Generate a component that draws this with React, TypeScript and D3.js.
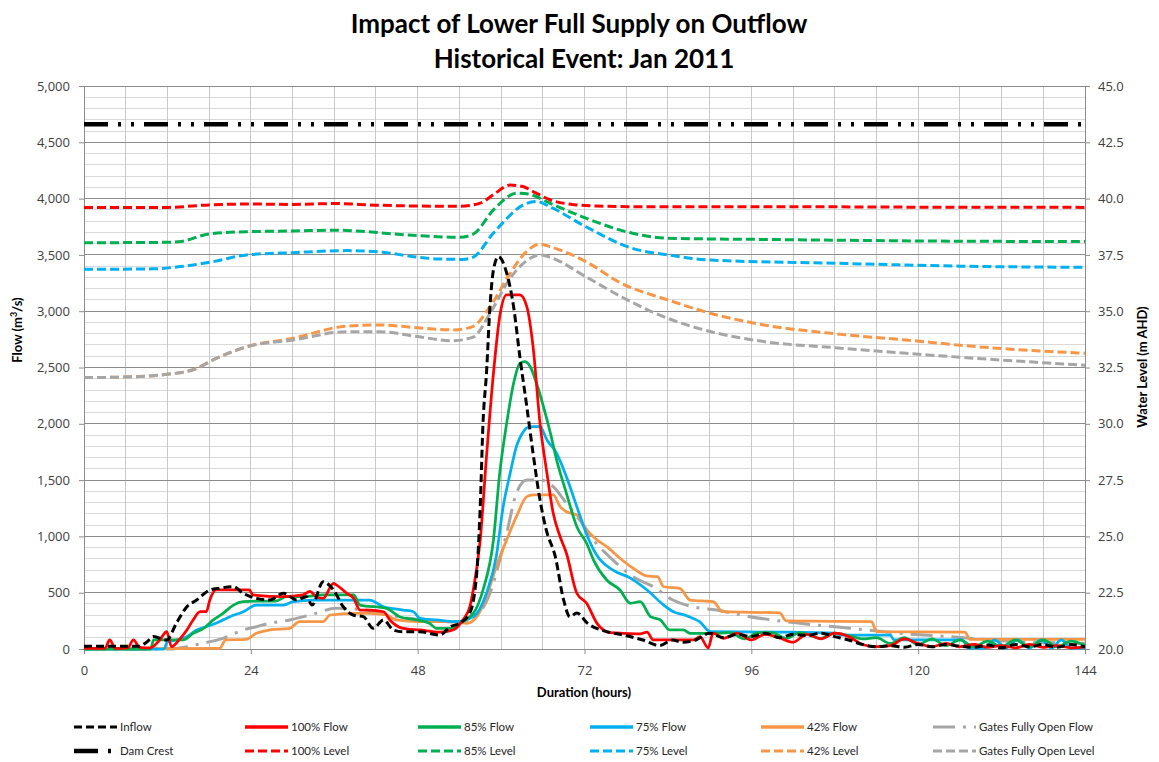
import React, { useEffect, useRef } from 'react';
import * as d3 from 'd3';

type Pt = [number, number];

// ---- data (hours, m3/s) ----
const inflow: Pt[] = [
  [0, 25], [4, 25], [8, 25], [9, 60], [10, 110], [11.9, 80], [13.3, 230], [14.8, 375], [16.2, 435],
  [18.1, 524], [19.5, 540], [21.5, 553], [22.9, 495], [24.8, 450], [26.7, 435], [28.7, 495], [30.6, 435],
  [32, 465], [32.8, 390], [34.4, 598], [35.9, 524], [37.3, 375], [38.8, 300], [40.2, 287], [41.6, 184],
  [43.1, 258], [44.5, 169], [45.9, 154], [48.3, 154], [51.2, 124], [52.7, 198], [54.1, 230], [55.5, 320],
  [56.5, 675], [57, 1264], [57.4, 2007], [57.9, 2450], [58.4, 3040], [58.9, 3366], [59.6, 3484],
  [60.8, 3340], [61.8, 3040], [62.7, 2596], [63.7, 2152], [64.6, 1738], [65.6, 1323], [66.5, 1057],
  [67.8, 820], [69, 435], [69.9, 287], [70.9, 320], [72.4, 230], [75.2, 154], [77.6, 124], [80.4, 80],
  [82.8, 30], [84.7, 80], [86, 60], [88, 80], [90, 140], [92, 100], [94, 130], [96, 110], [98, 140],
  [100, 100], [102, 130], [104, 120], [106, 140], [108, 110], [110, 80], [112, 40], [114, 20], [116, 30],
  [118, 15], [120, 40], [122, 20], [124, 40], [126, 25], [128, 15], [130, 35], [132, 10], [134, 40],
  [136, 20], [138, 40], [140, 15], [142, 40], [144, 20]
];

const flow100: Pt[] = [
  [0, 5], [3, 5], [3.7, 80], [4.5, 5], [6.3, 10], [7.1, 80], [8, 15], [9.5, 10], [10.9, 80], [11.9, 154],
  [12.6, 20], [13.8, 90], [14.8, 169], [15.7, 258], [16.7, 331], [17.6, 331], [18.1, 435], [19, 524],
  [20, 524], [23.8, 524], [24.3, 480], [28.7, 465], [31.5, 480], [32.5, 511], [33.4, 465], [34.4, 450],
  [35.9, 583], [36.3, 570], [37.8, 495], [38.8, 450], [39.7, 346], [41.1, 346], [43.1, 331], [44, 258],
  [45.9, 184], [48.3, 169], [51.2, 150], [53.1, 169], [54.5, 258], [55.5, 375], [56, 524], [57, 968],
  [57.9, 1708], [58.9, 2448], [59.8, 2951], [60.8, 3144], [62.7, 3144], [63.7, 3040], [64.6, 2685],
  [65.6, 2004], [66.6, 1560], [67.5, 1205], [68.5, 997], [69.4, 850], [70.9, 495], [72.3, 406],
  [73.8, 228], [75.7, 145], [77.6, 139], [80, 135], [81, 150], [81.9, 80], [87.7, 80], [88.6, 110],
  [89.8, 10], [90.5, 142], [92, 95], [94, 140], [96, 80], [98, 130], [100, 100], [102, 60], [104, 130],
  [106, 90], [108, 140], [110, 110], [112, 40], [114, 20], [116, 30], [118, 90], [120, 50], [122, 20],
  [124, 50], [126, 20], [128, 40], [130, 15], [132, 30], [134, 10], [136, 40], [138, 15], [140, 30],
  [142, 10], [144, 20]
];

const flow85: Pt[] = [
  [0, 0], [9.6, 0], [10, 80], [14.3, 80], [15.7, 139], [17.2, 184], [18.6, 258], [20, 317], [21.5, 390],
  [22.9, 420], [24.8, 425], [27.6, 425], [29.1, 465], [31.5, 465], [34.4, 480], [38.8, 480], [39.7, 390],
  [43.5, 361], [45.4, 287], [47.8, 258], [49.7, 228], [50.7, 184], [52.7, 184], [54.1, 228], [55.5, 287],
  [56, 317], [57.4, 524], [58.9, 968], [59.8, 1560], [60.8, 2004], [61.8, 2360], [62.7, 2537],
  [63.4, 2552], [64.2, 2507], [65.1, 2360], [66.1, 2152], [67.1, 1916], [68, 1678], [69.4, 1383],
  [70.9, 1086], [72.3, 939], [73.3, 790], [75.2, 613], [77.1, 524], [78.6, 406], [80, 420], [81.5, 287],
  [82.9, 258], [84.3, 169], [86.2, 169], [87.2, 139], [90, 139], [93, 145], [95, 90], [97, 145],
  [99, 145], [101, 95], [103, 145], [106, 95], [108, 140], [110, 120], [112, 90], [114, 100], [116, 50],
  [118, 100], [120, 40], [122, 90], [124, 30], [126, 80], [128, 20], [130, 70], [132, 20], [134, 80],
  [136, 20], [138, 80], [140, 20], [142, 70], [144, 30]
];

const flow75: Pt[] = [
  [0, 0], [11.5, 0], [12, 65], [13.3, 80], [14.8, 110], [16.2, 169], [17.6, 198], [19, 228], [21, 287],
  [22.9, 331], [24.8, 390], [28.7, 390], [30.1, 420], [33, 435], [41.1, 435], [43.1, 375], [45.9, 346],
  [47.4, 331], [48.3, 272], [50.7, 258], [53.6, 243], [56, 287], [57.9, 495], [59.3, 820], [60.3, 1264],
  [61.3, 1560], [62.2, 1797], [63.2, 1930], [64.2, 1974], [65.6, 1974], [66.6, 1856], [68, 1738],
  [69.4, 1530], [70.9, 1264], [72.3, 1020], [73.8, 830], [76.1, 700], [78.6, 630], [81, 524],
  [83.4, 390], [84.8, 331], [86.7, 295], [88.6, 240], [90.1, 154], [100, 150], [108, 140], [109, 124],
  [116, 124], [116.5, 80], [126.3, 80], [127.3, 8], [129.5, 8], [131, 80], [132.6, 8], [134.3, 80],
  [136, 8], [137.7, 80], [139.2, 8], [140.6, 80], [142, 8], [144, 8]
];

const flow42: Pt[] = [
  [0, 0], [19.5, 5], [20.4, 80], [23.3, 85], [24.8, 139], [26.7, 169], [29.6, 184], [31, 243],
  [34.4, 243], [35.4, 302], [38.8, 317], [41.1, 317], [43.5, 302], [44.9, 258], [48.3, 243], [53.1, 243],
  [55.1, 228], [56.5, 287], [57.9, 465], [59.3, 731], [60.8, 968], [62.2, 1175], [63.7, 1353],
  [64.6, 1368], [67.5, 1368], [68.5, 1264], [69.4, 1219], [70.9, 1190], [72.3, 1060], [73.8, 968],
  [75.2, 909], [77.1, 806], [79, 717], [80.9, 650], [82.5, 642], [83.4, 553], [85.7, 539], [87.2, 435],
  [90.5, 420], [91.9, 331], [100.1, 320], [101, 250], [113.3, 243], [114, 154], [126.7, 150],
  [127.5, 85], [144, 85]
];

const flowGates: Pt[] = [
  [0, 0], [12.4, 0], [14.8, 20], [17, 50], [20, 95], [22.9, 169], [24.8, 198], [26.7, 228], [29.6, 258],
  [32.5, 302], [36.3, 361], [38.8, 356], [41.1, 340], [44, 300], [47, 270], [50, 250], [53, 240],
  [55.5, 260], [58.4, 495], [59.8, 790], [60.8, 1027], [62.2, 1383], [63.7, 1500], [65.6, 1500],
  [67.5, 1442], [69.4, 1294], [71.3, 1146], [73.3, 968], [76.1, 790], [79, 642], [81.9, 553],
  [84.7, 435], [87.6, 375], [91, 346], [95.8, 287], [103, 228], [110.2, 184], [117.4, 139],
  [124.6, 110], [131.8, 74], [144, 50]
];

// ---- data (hours, m AHD) ----
const damCrest: Pt[] = [[0, 43.3], [144, 43.3]];

const level100: Pt[] = [
  [0, 39.6], [12, 39.61], [18, 39.72], [24, 39.76], [30, 39.74], [36, 39.78], [42, 39.71], [48, 39.67],
  [54, 39.66], [57, 39.8], [59, 40.2], [61.3, 40.6], [63, 40.55], [65, 40.25], [67, 39.95], [70, 39.75],
  [73.7, 39.67], [80, 39.64], [100, 39.64], [120, 39.62], [144, 39.61]
];

const level85: Pt[] = [
  [0, 38.04], [12, 38.06], [14, 38.1], [18, 38.43], [23.4, 38.53], [30, 38.56], [36, 38.6], [40, 38.55],
  [44.5, 38.43], [50, 38.32], [54, 38.28], [56, 38.42], [58.9, 39.5], [62.3, 40.24], [64, 40.2],
  [67, 39.8], [72.2, 39.13], [78.9, 38.46], [84, 38.24], [100, 38.18], [120, 38.12], [144, 38.09]
];

const level75: Pt[] = [
  [0, 36.86], [10, 36.88], [13.8, 36.98], [18.6, 37.2], [23.4, 37.5], [30, 37.6], [37.8, 37.69],
  [43, 37.62], [47.4, 37.42], [51, 37.32], [54.5, 37.3], [56, 37.4], [58.9, 38.47], [63.7, 39.79],
  [65.2, 39.87], [67, 39.64], [72.2, 38.75], [78.9, 37.79], [84, 37.5], [90.2, 37.27], [108, 37.13],
  [126, 37.0], [144, 36.95]
];

const level42: Pt[] = [
  [0, 32.05], [8, 32.1], [12, 32.2], [15.7, 32.4], [19, 32.9], [23.4, 33.42], [30.1, 33.8],
  [37.8, 34.34], [42.6, 34.39], [47.4, 34.28], [53.1, 34.17], [56, 34.33], [58.4, 35.2], [61.3, 36.68],
  [63.5, 37.6], [65.6, 37.98], [67, 37.87], [72.2, 37.2], [77.3, 36.24], [84, 35.5], [90.2, 34.9],
  [97.8, 34.39], [108, 34.0], [118.3, 33.72], [128.6, 33.42], [144, 33.13]
];

const levelGates: Pt[] = [
  [0, 32.05], [8, 32.1], [12, 32.2], [15.7, 32.4], [19, 32.9], [23.4, 33.42], [30.1, 33.72],
  [37.8, 34.09], [42.6, 34.09], [47.4, 33.9], [53.1, 33.69], [56, 33.85], [58.4, 34.9], [61.3, 36.46],
  [63.5, 37.2], [65.6, 37.5], [67, 37.4], [72.2, 36.53], [77.3, 35.64], [84, 34.68], [90.2, 34.09],
  [97.8, 33.65], [108, 33.38], [118.3, 33.13], [128.6, 32.9], [144, 32.6]
];

const flowTicks = d3.range(0, 5001, 500);
const levelTicks = d3.range(20, 45.01, 2.5);
const hourTicks = [0, 24, 48, 72, 96, 120, 144];

interface Series {
  name: string;
  data: Pt[];
  axis: 'flow' | 'level';
  color: string;
  width: number;
  dash: string | null;
}

// legend order: row 1 then row 2
const series: Series[] = [
  { name: 'Inflow', data: inflow, axis: 'flow', color: '#000000', width: 3, dash: '8,4' },
  { name: '100% Flow', data: flow100, axis: 'flow', color: '#FF0000', width: 2.75, dash: null },
  { name: '85% Flow', data: flow85, axis: 'flow', color: '#00B050', width: 2.75, dash: null },
  { name: '75% Flow', data: flow75, axis: 'flow', color: '#00B0F0', width: 2.75, dash: null },
  { name: '42% Flow', data: flow42, axis: 'flow', color: '#F79646', width: 2.75, dash: null },
  { name: 'Gates Fully Open Flow', data: flowGates, axis: 'flow', color: '#A6A6A6', width: 3, dash: '22,8,3,8' },
  { name: 'Dam Crest', data: damCrest, axis: 'level', color: '#000000', width: 4.5, dash: '24,10,3,10,3,10' },
  { name: '100% Level', data: level100, axis: 'level', color: '#FF0000', width: 3, dash: '9,4' },
  { name: '85% Level', data: level85, axis: 'level', color: '#00B050', width: 3, dash: '9,4' },
  { name: '75% Level', data: level75, axis: 'level', color: '#00B0F0', width: 3, dash: '9,4' },
  { name: '42% Level', data: level42, axis: 'level', color: '#F79646', width: 3, dash: '9,4' },
  { name: 'Gates Fully Open Level', data: levelGates, axis: 'level', color: '#A6A6A6', width: 3, dash: '9,4' }
];

const W = 1159;
const H = 762;
const plot = { left: 84, right: 1085, top: 86, bottom: 649 };
const titleFont = 'Lato, "Open Sans", sans-serif';
const tickFont = '"Open Sans", "Noto Sans", sans-serif';

const App: React.FC = () => {
  const svgRef = useRef<SVGSVGElement>(null);

  useEffect(() => {
    if (!svgRef.current) return;
    const svg = d3.select(svgRef.current);
    svg.selectAll('*').remove();

    const x = d3.scaleLinear().domain([0, 144]).range([plot.left, plot.right]);
    const yFlow = d3.scaleLinear().domain([0, 5000]).range([plot.bottom, plot.top]);
    const yLevel = d3.scaleLinear().domain([20, 45]).range([plot.bottom, plot.top]);

    svg.append('rect').attr('width', W).attr('height', H).attr('fill', '#fff');

    // gridlines
    const grid = svg.append('g').attr('shape-rendering', 'crispEdges');
    grid.selectAll('line.hmin')
      .data(d3.range(100, 5000, 100).filter(v => v % 500 !== 0))
      .enter().append('line')
      .attr('x1', plot.left).attr('x2', plot.right)
      .attr('y1', d => yFlow(d)).attr('y2', d => yFlow(d))
      .attr('stroke', '#D9D9D9').attr('stroke-width', 1);
    grid.selectAll('line.vmin')
      .data(d3.range(6, 144, 6))
      .enter().append('line')
      .attr('x1', d => x(d)).attr('x2', d => x(d))
      .attr('y1', plot.top).attr('y2', plot.bottom)
      .attr('stroke', '#C8C8C8').attr('stroke-width', 1);
    grid.selectAll('line.hmaj')
      .data(flowTicks.filter(v => v > 0))
      .enter().append('line')
      .attr('x1', plot.left).attr('x2', plot.right)
      .attr('y1', d => yFlow(d)).attr('y2', d => yFlow(d))
      .attr('stroke', '#8C8C8C').attr('stroke-width', 1);

    // axes
    const styleAxis = (g: d3.Selection<SVGGElement, unknown, null, undefined>) => {
      g.selectAll('.domain').attr('stroke', '#8C8C8C');
      g.selectAll('.tick line').attr('stroke', '#8C8C8C');
      g.selectAll('.tick text')
        .attr('fill', '#404040')
        .style('font-family', tickFont)
        .style('font-size', '13px');
    };

    const gl = svg.append('g')
      .attr('transform', `translate(${plot.left},0)`)
      .call(d3.axisLeft(yFlow).tickValues(flowTicks).tickFormat(d3.format(',')).tickSize(5).tickSizeOuter(0).tickPadding(9));
    styleAxis(gl);

    const gr = svg.append('g')
      .attr('transform', `translate(${plot.right},0)`)
      .call(d3.axisRight(yLevel).tickValues(levelTicks).tickFormat(d3.format('.1f')).tickSize(5).tickSizeOuter(0).tickPadding(8));
    styleAxis(gr);

    const gb = svg.append('g')
      .attr('transform', `translate(0,${plot.bottom})`)
      .call(d3.axisBottom(x).tickValues(hourTicks).tickSize(5).tickSizeOuter(0).tickPadding(12));
    styleAxis(gb);

    // series: levels first, then flows (inflow on top)
    const clip = svg.append('clipPath').attr('id', 'plot-clip');
    clip.append('rect')
      .attr('x', plot.left).attr('y', plot.top - 2)
      .attr('width', plot.right - plot.left).attr('height', plot.bottom - plot.top + 4);

    const lines = svg.append('g').attr('clip-path', 'url(#plot-clip)');
    const drawOrder = [6, 7, 8, 9, 10, 11, 5, 4, 3, 2, 1, 0];
    drawOrder.forEach(i => {
      const s = series[i];
      const yScale = s.axis === 'flow' ? yFlow : yLevel;
      const line = d3.line<Pt>()
        .x(d => x(d[0]))
        .y(d => yScale(d[1]))
        .curve(d3.curveMonotoneX);
      lines.append('path')
        .datum(s.data)
        .attr('d', line)
        .attr('fill', 'none')
        .attr('stroke', s.color)
        .attr('stroke-width', s.width)
        .attr('stroke-dasharray', s.dash ?? null)
        .attr('stroke-linejoin', 'round');
    });

    // titles
    svg.append('text')
      .attr('x', 579).attr('y', 33)
      .attr('text-anchor', 'middle')
      .style('font-family', titleFont).style('font-weight', 700).style('font-size', '26px')
      .text('Impact of Lower Full Supply on Outflow');
    svg.append('text')
      .attr('x', 584).attr('y', 68)
      .attr('text-anchor', 'middle')
      .style('font-family', titleFont).style('font-weight', 700).style('font-size', '26px')
      .text('Historical Event: Jan 2011');

    svg.append('text')
      .attr('x', 584).attr('y', 697)
      .attr('text-anchor', 'middle')
      .style('font-family', titleFont).style('font-weight', 700).style('font-size', '13px')
      .text('Duration (hours)');

    const flowTitle = svg.append('text')
      .attr('transform', 'translate(22,330) rotate(-90)')
      .attr('text-anchor', 'middle')
      .style('font-family', titleFont).style('font-weight', 700).style('font-size', '13px');
    flowTitle.append('tspan').text('Flow (m');
    flowTitle.append('tspan').text('3').attr('dy', -5).style('font-size', '9px');
    flowTitle.append('tspan').text('/s)').attr('dy', 5);

    svg.append('text')
      .attr('transform', 'translate(1147,367) rotate(-90)')
      .attr('text-anchor', 'middle')
      .style('font-family', titleFont).style('font-weight', 700).style('font-size', '13px')
      .text('Water Level (m AHD)');

    // legend
    const legendX = [74, 245, 418, 590, 761, 933];
    const legendY = [727, 751];
    const lg = svg.append('g');
    series.forEach((s, i) => {
      const col = i % 6;
      const row = Math.floor(i / 6);
      const lx = legendX[col];
      const ly = legendY[row];
      lg.append('line')
        .attr('x1', lx).attr('x2', lx + 43)
        .attr('y1', ly).attr('y2', ly)
        .attr('stroke', s.color)
        .attr('stroke-width', s.dash ? s.width : 3.5)
        .attr('stroke-dasharray', s.dash ?? null);
      lg.append('text')
        .attr('x', lx + 46).attr('y', ly + 4)
        .style('font-family', titleFont).style('font-size', '11.5px')
        .attr('fill', '#262626')
        .text(s.name);
    });
  }, []);

  return (
    <svg
      ref={svgRef}
      width={W}
      height={H}
      style={{ position: 'absolute', left: 0, top: 0, display: 'block' }}
    />
  );
};

export default App;
